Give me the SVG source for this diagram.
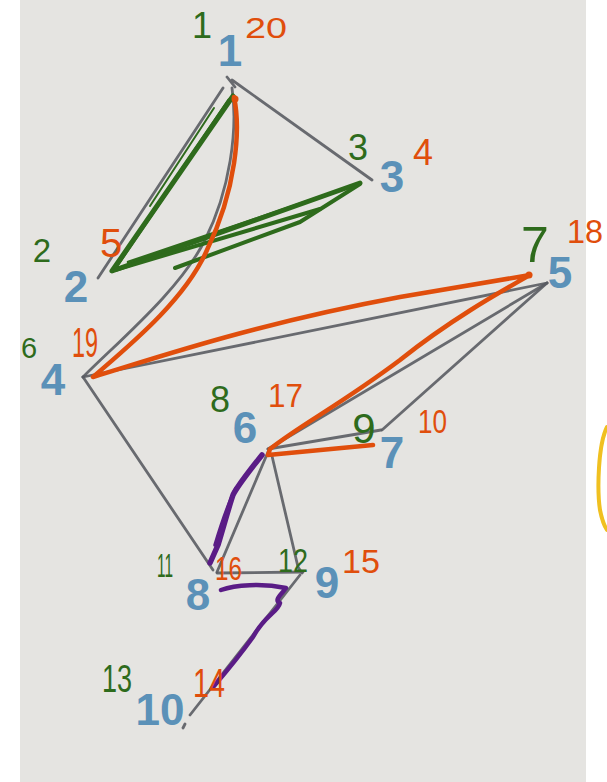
<svg xmlns="http://www.w3.org/2000/svg" width="607" height="782" viewBox="0 0 607 782">
<style>
.e{fill:none;stroke:#5a5c63;stroke-width:2.8;stroke-linecap:round;stroke-linejoin:round;opacity:0.9}
.g{fill:none;stroke:#2e6b1c;stroke-linecap:round;stroke-linejoin:round}
.o{fill:none;stroke:#e04e0c;stroke-width:4.5;stroke-linecap:round;stroke-linejoin:round}
.p{fill:none;stroke:#5a1c86;stroke-linecap:round;stroke-linejoin:round}
.lbl{font-family:"Liberation Sans",Arial,sans-serif;font-weight:bold;font-size:44px;fill:#5b91b8;text-anchor:middle}
.gn{font-family:"Liberation Sans",Arial,sans-serif;fill:#2e6b1c}
.on{font-family:"Liberation Sans",Arial,sans-serif;fill:#e04e0c}
.c{text-anchor:middle}
</style>
<rect x="0" y="0" width="607" height="782" fill="#ffffff"/>
<rect x="20" y="0" width="566" height="782" fill="#e5e4e1"/>
<path d="M607,427 C598,445 597,490 600,510 C602,520 605,527 607,530" fill="none" stroke="#f0c020" stroke-width="4" stroke-linecap="round"/>

<g id="connectors">
<path class="e" d="M227,77 L235,87 M232,80 L372,180"/>
<path class="e" d="M223,88 L98,278"/>
<path class="e" d="M232,88 C238,130 230,190 205,240 C180,290 120,340 83,377"/>
<path class="e" d="M83,377 L547,283"/>
<path class="e" d="M547,283 L268,449"/>
<path class="e" d="M547,283 L382,430"/>
<path class="e" d="M268,449 L381,430"/>
<path class="e" d="M83,377 L213,570"/>
<path class="e" d="M268,452 L217,572"/>
<path class="e" d="M272,456 L298,567 L302,573"/>
<path class="e" d="M217,573 L303,572"/>
<path class="e" d="M300,575 L190,715"/>
<path class="e" d="M183,728 L185,724"/>
<!-- green route -->
<path class="g" stroke-width="5" d="M233,96 L112,271 L360,183"/>
<path class="g" stroke-width="3.5" d="M229,100 L118,264"/>
<path class="g" stroke-width="2" d="M214,108 L150,206"/>
<path class="g" stroke-width="4" d="M115,270 L320,209"/>
<path class="g" stroke-width="4" d="M175,268 L300,222 L360,184"/>
<path class="g" stroke-width="2.5" d="M128,262 L340,190"/>
<!-- orange route -->
<path class="o" d="M234,97 C241,130 236,190 207,250 C185,300 130,345 93,377 C150,360 250,325 400,297 C470,285 510,278 530,275 C500,292 450,320 400,360 C340,405 300,425 270,449 L268,455 L373,445"/>
<circle cx="235" cy="99" r="3.5" fill="#e04e0c"/>
<circle cx="529" cy="275" r="3.5" fill="#e04e0c"/>
<!-- purple route -->
<path class="p" stroke-width="5.5" d="M262,455 C250,470 238,485 233,495 C228,510 224,525 218,545 L210,563"/>
<path class="p" stroke-width="3.5" d="M236,488 C230,500 224,515 215,545"/>
<path class="p" stroke-width="4.5" d="M221,590 C235,585 262,583 286,588 C280,596 274,600 280,603 C278,612 265,615 253,637 C240,655 226,672 214,686"/>
</g>

<g id="n1"><text class="lbl" x="230" y="66">1</text><text class="gn c" x="202" y="38" font-size="36">1</text><text class="on" x="245" y="38" font-size="29" textLength="42" lengthAdjust="spacingAndGlyphs">20</text></g>
<g id="n2"><text class="lbl" x="76" y="302">2</text><text class="gn c" x="42" y="262" font-size="33">2</text><text class="on c" x="111" y="257" font-size="40">5</text></g>
<g id="n3"><text class="lbl" x="392" y="192">3</text><text class="gn c" x="358" y="160" font-size="36">3</text><text class="on c" x="423" y="165" font-size="36">4</text></g>
<g id="n4"><text class="lbl" x="53" y="395">4</text><text class="gn c" x="29" y="358" font-size="29">6</text><text class="on" x="72" y="357" font-size="42" textLength="26" lengthAdjust="spacingAndGlyphs">19</text></g>
<g id="n5"><text class="lbl" x="560" y="288">5</text><text class="gn c" x="535" y="262" font-size="50">7</text><text class="on" x="567" y="243" font-size="34" textLength="36" lengthAdjust="spacingAndGlyphs">18</text></g>
<g id="n6"><text class="lbl" x="245" y="443">6</text><text class="gn c" x="220" y="412" font-size="36">8</text><text class="on" x="268" y="407" font-size="34" textLength="35" lengthAdjust="spacingAndGlyphs">17</text></g>
<g id="n7"><text class="lbl" x="392" y="468">7</text><text class="gn c" x="364" y="443" font-size="42">9</text><text class="on" x="418" y="433" font-size="34" textLength="29" lengthAdjust="spacingAndGlyphs">10</text></g>
<g id="n8"><text class="lbl" x="198" y="610">8</text><text class="gn" x="157" y="577" font-size="33" textLength="16" lengthAdjust="spacingAndGlyphs">11</text><text class="on" x="215" y="580" font-size="34" textLength="27" lengthAdjust="spacingAndGlyphs">16</text></g>
<g id="n9"><text class="lbl" x="327" y="598">9</text><text class="gn" x="278" y="572" font-size="34" textLength="30" lengthAdjust="spacingAndGlyphs">12</text><text class="on" x="342" y="573" font-size="34" textLength="38" lengthAdjust="spacingAndGlyphs">15</text></g>
<g id="n10"><text class="lbl" x="160" y="725">10</text><text class="gn" x="102" y="692" font-size="38" textLength="30" lengthAdjust="spacingAndGlyphs">13</text><text class="on" x="193" y="697" font-size="40" textLength="32" lengthAdjust="spacingAndGlyphs">14</text></g>
</svg>
